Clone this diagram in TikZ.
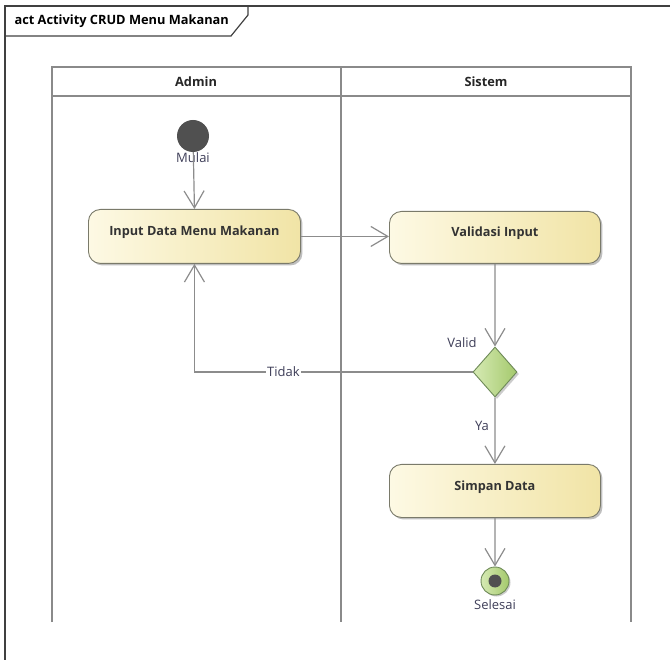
\documentclass[tikz,border=0pt]{standalone}
\usepackage{fontspec}
\setmainfont{Open Sans}
\usetikzlibrary{arrows.meta,positioning,shapes.geometric,shadows}
\definecolor{frameline}{HTML}{404040}
\definecolor{laneline}{HTML}{8A8A8A}
\definecolor{flowline}{HTML}{8C8C8C}
\definecolor{actL}{HTML}{FDF9E4}
\definecolor{actR}{HTML}{F1E4A6}
\definecolor{actBorder}{HTML}{7A7A6A}
\definecolor{decL}{HTML}{D6EAB4}
\definecolor{decR}{HTML}{A4C96C}
\definecolor{decBorder}{HTML}{6E8A58}
\definecolor{dotFill}{HTML}{505050}
\definecolor{lblText}{HTML}{3E3E58}

\begin{document}
\begin{tikzpicture}[x=1pt, y=-1pt, >={Straight Barb[length=17pt, width=20pt]}]
\tikzstyle{blank}=[text centered, inner sep=1pt, text=lblText, font=\fontsize{13}{15}\selectfont]
\tikzstyle{head}=[text centered, font=\bfseries\fontsize{12.8}{14}\selectfont, text=black!85]
\tikzstyle{action}=[draw=actBorder, line width=0.9pt, rounded corners=12pt, anchor=north west, left color=actL, right color=actR, font=\bfseries\fontsize{12.7}{14}\selectfont, text=black!80, text height=9pt, text depth=10pt, drop shadow={shadow xshift=2pt, shadow yshift=-2pt, fill=black, opacity=0.25}]
\tikzstyle{decision}=[diamond, draw=decBorder, line width=0.9pt, left color=decL, right color=decR, minimum width=44pt, minimum height=50pt, inner sep=0pt, drop shadow={shadow xshift=2pt, shadow yshift=-2pt, fill=black, opacity=0.2}]
\tikzstyle{flow}=[->, draw=flowline, line width=1.2pt]
\tikzstyle{lane}=[draw=laneline, line width=1.5pt]

\useasboundingbox (0,0) rectangle (670,660);

\draw[frameline, line width=1.2pt] (670,6) -- (5,6) -- (5,660);
\draw[frameline, line width=1.2pt] (5,36) -- (231,36) -- (248,15) -- (248,6);
\node[anchor=west, font=\bfseries\fontsize{12.8}{14}\selectfont] (judul) at (11,21) {act Activity CRUD Menu Makanan};

\draw[lane] (52,622) -- (52,67) -- (631,67) -- (631,622);
\draw[lane] (52,96) -- (631,96);
\draw[lane] (341,67) -- (341,622);
\node[head] (admin) at (196,82) {Admin};
\node[head] (sistem) at (486,82) {Sistem};

\node[circle, fill=dotFill, minimum size=32pt, inner sep=0pt] (mulai) at (193,136) {};
\node[blank] (mulaiLbl) at (193,158) {Mulai};
\node[action, minimum width=212pt, minimum height=54pt] (input) at (88,209) {Input Data Menu Makanan};
\node[action, minimum width=211pt, minimum height=52pt] (validasi) at (389,211) {Validasi Input};
\node[decision] (cek) at (495,372) {};
\node[blank] (validLbl) at (462,343) {Valid};
\node[action, minimum width=211pt, minimum height=53pt] (simpan) at (389,464) {Simpan Data};
\node[blank] (yaLbl) at (482,426) {Ya};
\node[circle, draw=decBorder, line width=0.9pt, left color=decL, right color=decR, minimum size=28pt, inner sep=0pt, drop shadow={shadow xshift=1.5pt, shadow yshift=-1.5pt, fill=black, opacity=0.2}] (selesai) at (495,581) {};
\node[circle, fill=dotFill, minimum size=13pt, inner sep=0pt] (selesaiDot) at (selesai) {};
\node[blank] (selesaiLbl) at (495,605) {Selesai};

\draw[flow] (mulai) -- (input.north);
\draw[flow] (input.east) -- (validasi.west |- input.east);
\draw[flow] (validasi.south) -- (cek.north);
\draw[flow] (cek.west) -| (input.south) node[blank, fill=white, pos=0.34] (tidak) {Tidak};
\draw[flow] (cek.south) -- (simpan.north);
\draw[flow] (simpan.south) -- (selesai.north);
\end{tikzpicture}
\end{document}
